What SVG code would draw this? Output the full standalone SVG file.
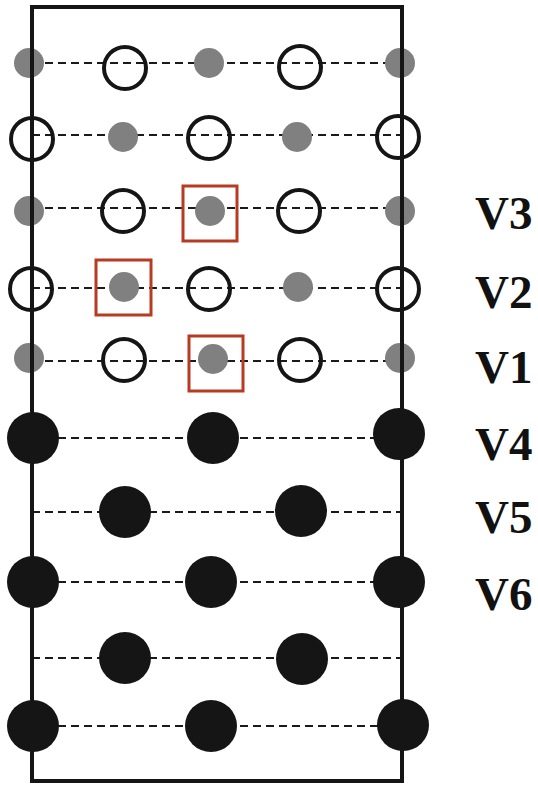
<svg xmlns="http://www.w3.org/2000/svg" width="538" height="786" viewBox="0 0 538 786">
  <style>
    .row { stroke: #1a1a1a; stroke-width: 2; stroke-dasharray: 8 5; fill: none; }
    .grey { fill: #808080; }
    .ring { fill: none; stroke: #151515; stroke-width: 4; }
    .dot { fill: #151515; }
    .mark { fill: none; stroke: #b83a22; stroke-width: 3; }
    .frame { fill: none; stroke: #151515; stroke-width: 4; }
    .lbl { font-family: "Liberation Serif", "Times New Roman", serif; font-weight: bold; font-size: 47px; fill: #111; }
  </style>

  <!-- dashed row lines -->
  <g id="connectors">
    <line class="row" x1="32" y1="63" x2="402" y2="63"/>
    <line class="row" x1="32" y1="135" x2="402" y2="135"/>
    <line class="row" x1="32" y1="208" x2="402" y2="208"/>
    <line class="row" x1="32" y1="288" x2="402" y2="288"/>
    <line class="row" x1="32" y1="361" x2="402" y2="361"/>
    <line class="row" x1="32" y1="438" x2="402" y2="438"/>
    <line class="row" x1="32" y1="512" x2="402" y2="512"/>
    <line class="row" x1="32" y1="582" x2="402" y2="582"/>
    <line class="row" x1="32" y1="658" x2="402" y2="658"/>
    <line class="row" x1="32" y1="726" x2="402" y2="726"/>
  </g>

  <!-- grey and ring sites -->
  <g id="row1">
    <circle class="grey" cx="29" cy="63" r="15"/>
    <circle class="ring" cx="125" cy="68" r="21"/>
    <circle class="grey" cx="209" cy="63" r="15"/>
    <circle class="ring" cx="300" cy="67" r="21"/>
    <circle class="grey" cx="400" cy="63" r="15"/>
  </g>
  <g id="row2">
    <circle class="ring" cx="32" cy="139" r="21"/>
    <circle class="grey" cx="123" cy="137" r="15"/>
    <circle class="ring" cx="209" cy="138" r="21"/>
    <circle class="grey" cx="297" cy="137" r="15"/>
    <circle class="ring" cx="398" cy="137" r="21"/>
  </g>
  <g id="row3">
    <circle class="grey" cx="29" cy="211" r="15"/>
    <circle class="ring" cx="123" cy="211" r="21"/>
    <circle class="grey" cx="210" cy="211" r="15"/>
    <circle class="ring" cx="299" cy="211" r="21"/>
    <circle class="grey" cx="400" cy="211" r="15"/>
  </g>
  <g id="row4">
    <circle class="ring" cx="31" cy="289" r="21"/>
    <circle class="grey" cx="124" cy="287" r="15"/>
    <circle class="ring" cx="209" cy="289" r="21"/>
    <circle class="grey" cx="298" cy="287" r="15"/>
    <circle class="ring" cx="398" cy="289" r="21"/>
  </g>
  <g id="row5">
    <circle class="grey" cx="29" cy="358" r="15"/>
    <circle class="ring" cx="124" cy="360" r="21"/>
    <circle class="grey" cx="213" cy="359" r="15"/>
    <circle class="ring" cx="300" cy="360" r="21"/>
    <circle class="grey" cx="400" cy="358" r="15"/>
  </g>

  <!-- highlighted sites -->
  <g id="marks">
    <rect class="mark" x="183" y="186" width="54" height="55"/>
    <rect class="mark" x="96" y="260" width="55" height="55"/>
    <rect class="mark" x="189" y="336" width="54" height="55"/>
  </g>

  <!-- outer frame -->
  <rect id="frame" class="frame" x="32" y="7" width="370" height="774"/>

  <!-- black sites -->
  <g id="row6">
    <circle class="dot" cx="33" cy="438" r="26"/>
    <circle class="dot" cx="213" cy="438" r="26"/>
    <circle class="dot" cx="399" cy="434" r="26"/>
  </g>
  <g id="row7">
    <circle class="dot" cx="125" cy="512" r="26"/>
    <circle class="dot" cx="301" cy="511" r="26"/>
  </g>
  <g id="row8">
    <circle class="dot" cx="33" cy="582" r="26"/>
    <circle class="dot" cx="211" cy="582" r="26"/>
    <circle class="dot" cx="399" cy="582" r="26"/>
  </g>
  <g id="row9">
    <circle class="dot" cx="125" cy="658" r="26"/>
    <circle class="dot" cx="302" cy="659" r="26"/>
  </g>
  <g id="row10">
    <circle class="dot" cx="33" cy="726" r="26"/>
    <circle class="dot" cx="211" cy="726" r="26"/>
    <circle class="dot" cx="403" cy="725" r="26"/>
  </g>

  <!-- row labels -->
  <g id="labels">
    <text class="lbl" x="475" y="229">V3</text>
    <text class="lbl" x="475" y="308">V2</text>
    <text class="lbl" x="475" y="383">V1</text>
    <text class="lbl" x="475" y="460">V4</text>
    <text class="lbl" x="475" y="533">V5</text>
    <text class="lbl" x="475" y="610">V6</text>
  </g>
</svg>
